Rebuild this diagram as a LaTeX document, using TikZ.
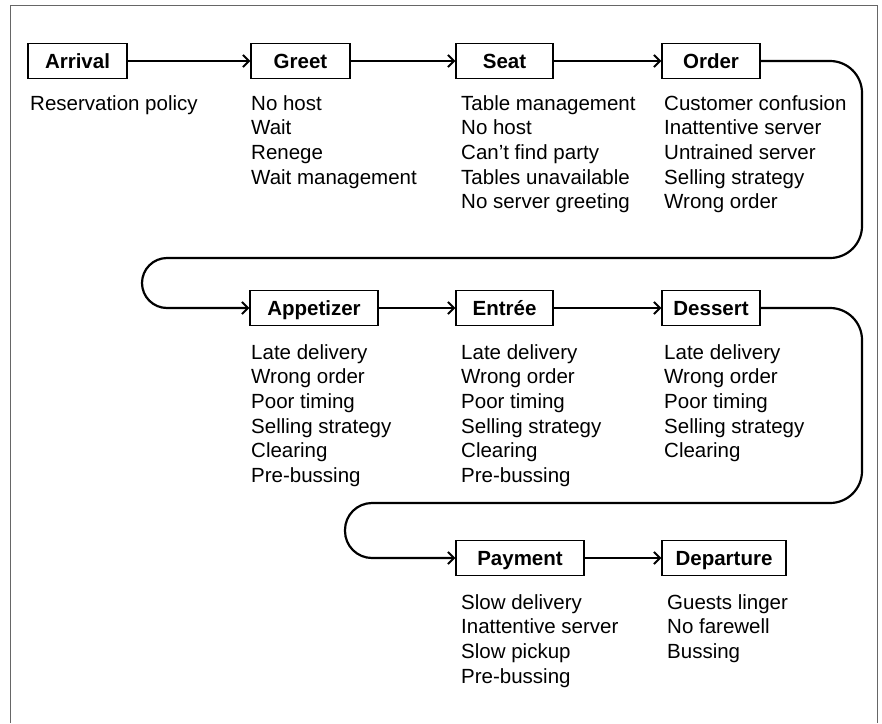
\documentclass[tikz,border=0pt]{standalone}
\usepackage{fontspec}
\setmainfont{Liberation Sans}
\usetikzlibrary{arrows.meta}
\tikzset{
  stage/.style={draw, line width=1.3pt, minimum height=35pt, inner sep=0pt,
    text height=14.7pt, text depth=0pt, font=\fontsize{20.5}{24.7}\selectfont\bfseries},
  issues/.style={anchor=north west, align=left, inner sep=0pt,
    font=\fontsize{20.5}{24.7}\selectfont},
  flow/.style={line width=2.2pt, -{Straight Barb[length=6pt,width=12pt,line width=2pt]}},
  frame/.style={draw=black!60, line width=0.9pt}
}
\begin{document}
\begin{tikzpicture}[x=1pt,y=-1pt]
\useasboundingbox (0,0) rectangle (882,723);
\draw[frame] (10,723) -- (10,5) -- (877,5) -- (877,723);
% row 1
\node[stage, minimum width=99pt] (arr) at (77.5,61) {Arrival};
\node[stage, minimum width=99pt] (gre) at (300.5,61) {Greet};
\node[stage, minimum width=97pt] (sea) at (504.5,61) {Seat};
\node[stage, minimum width=98pt] (ord) at (711,61) {Order};
% row 2
\node[stage, minimum width=128pt] (app) at (314,308) {Appetizer};
\node[stage, minimum width=97pt] (ent) at (504.5,308) {Entrée};
\node[stage, minimum width=98pt] (des) at (711,308) {Dessert};
% row 3
\node[stage, minimum width=128pt] (pay) at (520,558) {Payment};
\node[stage, minimum width=124pt] (dep) at (724,558) {Departure};
% lists
\node[issues] (larr) at (30,95) {Reservation policy};
\node[issues] (lgre) at (251,95) {No host\\Wait\\Renege\\Wait management};
\node[issues] (lsea) at (461,95) {Table management\\No host\\Can’t find party\\Tables unavailable\\No server greeting};
\node[issues] (lord) at (664,95) {Customer confusion\\Inattentive server\\Untrained server\\Selling strategy\\Wrong order};
\node[issues] (lapp) at (251,344) {Late delivery\\Wrong order\\Poor timing\\Selling strategy\\Clearing\\Pre-bussing};
\node[issues] (lent) at (461,344) {Late delivery\\Wrong order\\Poor timing\\Selling strategy\\Clearing\\Pre-bussing};
\node[issues] (ldes) at (664,344) {Late delivery\\Wrong order\\Poor timing\\Selling strategy\\Clearing};
\node[issues] (lpay) at (461,594) {Slow delivery\\Inattentive server\\Slow pickup\\Pre-bussing};
\node[issues] (ldep) at (667,594) {Guests linger\\No farewell\\Bussing};
% connectors
\coordinate (r1) at (862,61);
\coordinate (r2) at (862,258);
\coordinate (l1) at (142,258);
\coordinate (l2) at (142,308);
\coordinate (r3) at (862,308);
\coordinate (r4) at (862,503);
\coordinate (l3) at (345,503);
\coordinate (l4) at (345,558);
\draw[flow] (arr) -- (gre);
\draw[flow] (gre) -- (sea);
\draw[flow] (sea) -- (ord);
\draw[flow] (ord.east) [rounded corners=32pt] -- (r1) -- (r2) [rounded corners=25pt] -- (l1) -- (l2) [rounded corners=0pt] -- (app.west);
\draw[flow] (app) -- (ent);
\draw[flow] (ent) -- (des);
\draw[flow] (des.east) [rounded corners=32pt] -- (r3) -- (r4) [rounded corners=27pt] -- (l3) -- (l4) [rounded corners=0pt] -- (pay.west);
\draw[flow] (pay) -- (dep);
\end{tikzpicture}
\end{document}
